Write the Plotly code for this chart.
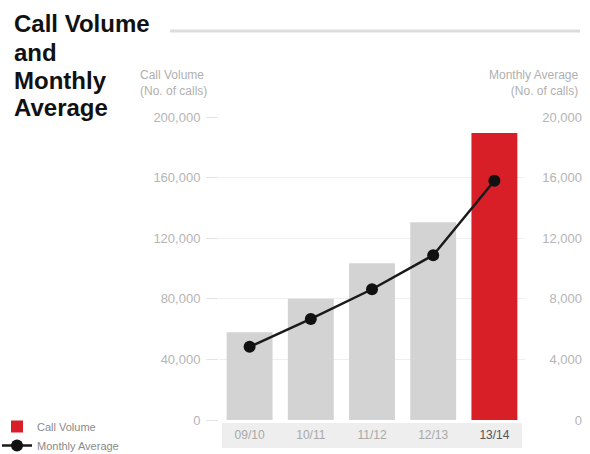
import plotly.graph_objects as go

# Fiscal years and call data
years = ["09/10", "10/11", "11/12", "12/13", "13/14"]
call_volume = [58000, 80000, 103500, 130500, 189500]
monthly_average = [4830, 6670, 8630, 10880, 15790]

left_ticks = [0, 40000, 80000, 120000, 160000, 200000]
right_ticks = [0, 4000, 8000, 12000, 16000, 20000]

W, H = 590, 454


def px(x):
    return x / W


def py(y):
    return 1 - y / H


FONT = "Liberation Sans, Arial, Helvetica, sans-serif"
GREY = "#d3d3d3"
RED = "#d81e27"
TXT = "#a8a8a8"

tick_text = [f"<span style='color:{TXT}'>{y}</span>" for y in years[:-1]]
tick_text.append(f"<span style='color:#555555'>{years[-1]}</span>")

fig = go.Figure()
# earlier years in grey, the latest year highlighted in red
fig.add_trace(go.Bar(
    x=years[:-1], y=call_volume[:-1], name="Call Volume (earlier)",
    marker=dict(color=GREY, line=dict(width=0)),
    width=0.75, yaxis="y", showlegend=False,
))
fig.add_trace(go.Bar(
    x=years[-1:], y=call_volume[-1:], name="Call Volume",
    marker=dict(color=RED, line=dict(width=0)),
    width=0.75, yaxis="y",
))
fig.add_trace(go.Scatter(
    x=years, y=monthly_average, name="Monthly Average",
    mode="lines+markers",
    line=dict(color="#1a1a1a", width=2.5),
    marker=dict(color="#111111", size=12, symbol="circle"),
    yaxis="y2",
))

fig.update_layout(
    width=W, height=H,
    margin=dict(l=0, r=0, t=0, b=0, autoexpand=False),
    paper_bgcolor="white", plot_bgcolor="white",
    font=dict(family=FONT, color=TXT, size=12),
    barmode="overlay",
    xaxis=dict(
        domain=[px(219), px(525)],
        range=[-0.5, 4.5],
        type="category", categoryorder="array", categoryarray=years,
        tickmode="array", tickvals=years, ticktext=tick_text,
        tickfont=dict(size=12),
        showgrid=False, showline=False, zeroline=False, ticks="",
        ticklabelstandoff=6,
    ),
    yaxis=dict(
        domain=[py(420), py(117)],
        range=[0, 200000],
        tickvals=left_ticks, tickformat=",",
        tickfont=dict(size=13, color="#b5b5b5"),
        showgrid=True, gridcolor="#efefef", gridwidth=1,
        zeroline=False, showline=False,
        ticks="outside", ticklen=12, tickcolor="#e4e4e4",
        ticklabelstandoff=3,
    ),
    yaxis2=dict(
        overlaying="y", anchor="free", position=px(582), side="left",
        range=[0, 20000],
        tickvals=right_ticks, tickformat=",",
        tickfont=dict(size=13, color="#b5b5b5"),
        showgrid=False, zeroline=False, showline=False, ticks="",
    ),
    legend=dict(
        x=px(-3), y=py(460), xanchor="left", yanchor="bottom",
        orientation="v", font=dict(size=11, color="#8a8a8a"),
        bgcolor="rgba(0,0,0,0)", itemwidth=30, tracegroupgap=0,
    ),
    showlegend=True,
)

shapes = [
    # rule beside the heading
    dict(type="line", xref="paper", yref="paper",
         x0=px(170), x1=px(580), y0=py(31), y1=py(31),
         line=dict(color="#dddddd", width=3)),
    # band behind the year labels
    dict(type="rect", xref="paper", yref="paper", layer="below",
         x0=px(222), x1=px(522), y0=py(448), y1=py(423),
         fillcolor="#eeeeee", line=dict(width=0)),
]
fig.update_layout(shapes=shapes)

annotations = []
title_lines = ["Call Volume", "and", "Monthly", "Average"]
title_centers = [24, 52, 80, 108]
for line, yc in zip(title_lines, title_centers):
    annotations.append(dict(
        text=f"<b>{line}</b>", xref="paper", yref="paper",
        x=px(12), y=py(yc), xanchor="left", yanchor="middle",
        showarrow=False, font=dict(size=24, color="#111111", family=FONT),
    ))
annotations.append(dict(
    text="Call Volume<br>(No. of calls)", xref="paper", yref="paper",
    x=px(138), y=py(66), xanchor="left", yanchor="top", align="left",
    showarrow=False, font=dict(size=12, color="#b0b0b0"),
))
annotations.append(dict(
    text="Monthly Average<br>(No. of calls)", xref="paper", yref="paper",
    x=px(580), y=py(66), xanchor="right", yanchor="top", align="right",
    showarrow=False, font=dict(size=12, color="#b0b0b0"),
))
fig.update_layout(annotations=annotations)

fig.write_html("out.html")
